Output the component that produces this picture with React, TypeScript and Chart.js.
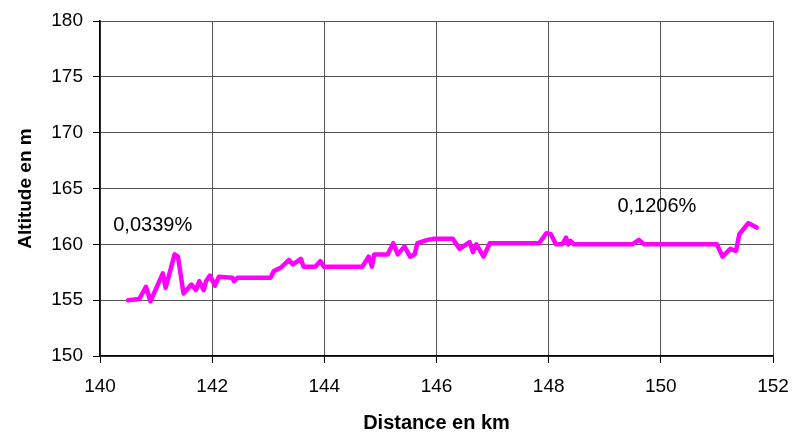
import React, { useEffect, useRef } from "react";
import { Chart, registerables } from "chart.js";

Chart.register(...registerables);

const distanceKm: number[] = [
  140.5, 140.7, 140.82, 140.9, 141.12, 141.17, 141.33, 141.39, 141.49, 141.63,
  141.71, 141.77, 141.85, 141.89, 141.96, 142.05, 142.12, 142.36, 142.39, 142.45,
  143.04, 143.1, 143.22, 143.37, 143.44, 143.58, 143.63, 143.84, 143.93, 143.99,
  144.68, 144.79, 144.85, 144.89, 145.13, 145.23, 145.31, 145.43, 145.53, 145.61,
  145.66, 145.84, 145.96, 146.29, 146.41, 146.59, 146.65, 146.71, 146.84, 146.95,
  147.83, 147.96, 148.04, 148.13, 148.24, 148.31, 148.35, 148.39, 148.45, 149.49,
  149.61, 149.7, 151.0, 151.1, 151.24, 151.34, 151.4, 151.56, 151.71,
];

const altitudeM: number[] = [
  155.0, 155.1, 156.2, 154.9, 157.4, 156.1, 159.1, 158.9, 155.6, 156.4,
  155.9, 156.7, 155.9, 156.7, 157.2, 156.3, 157.1, 157.0, 156.7, 157.0,
  157.0, 157.6, 157.9, 158.6, 158.2, 158.7, 158.0, 158.0, 158.5, 158.0,
  158.0, 158.9, 158.0, 159.1, 159.1, 160.1, 159.1, 159.8, 158.9, 159.1,
  160.1, 160.4, 160.5, 160.5, 159.6, 160.2, 159.3, 160.0, 158.9, 160.1,
  160.1, 161.0, 160.9, 160.0, 160.0, 160.6, 160.0, 160.3, 160.0, 160.0,
  160.4, 160.0, 160.0, 158.9, 159.6, 159.4, 160.9, 161.9, 161.5,
];

const annotationTexts: string[] = ["0,0339%", "0,1206%"];
const annotationX: number[] = [140.94, 149.93];
const annotationY: number[] = [161.65, 163.35];

const xTitle = "Distance en km";
const yTitle = "Altitude en m";

const FONT = '"Liberation Sans", Arial, sans-serif';

const annotationPlugin = {
  id: "slopeLabels",
  afterDatasetsDraw(chart: any) {
    const { ctx, scales } = chart;
    ctx.save();
    ctx.font = `20px ${FONT}`;
    ctx.fillStyle = "#000";
    ctx.textAlign = "center";
    ctx.textBaseline = "middle";
    annotationTexts.forEach((t, i) => {
      ctx.fillText(t, scales.x.getPixelForValue(annotationX[i]), scales.y.getPixelForValue(annotationY[i]));
    });
    ctx.restore();
  },
};

export default function App() {
  const ref = useRef<HTMLCanvasElement | null>(null);
  useEffect(() => {
    if (!ref.current) return;
    const data = distanceKm.map((x, i) => ({ x, y: altitudeM[i] }));
    const chart = new Chart(ref.current, {
      type: "line",
      data: {
        datasets: [
          {
            data,
            borderColor: "#FF00FF",
            backgroundColor: "#FF00FF",
            borderWidth: 4.5,
            pointRadius: 0,
            tension: 0,
            borderJoinStyle: "round",
            borderCapStyle: "round",
          },
        ],
      },
      options: {
        animation: false,
        responsive: false,
        maintainAspectRatio: false,
        layout: { padding: { top: 21, right: 22, left: 0, bottom: 0 } },
        plugins: { legend: { display: false }, tooltip: { enabled: false } },
        scales: {
          x: {
            type: "linear",
            min: 140,
            max: 152,
            afterFit: (s: any) => {
              s.height = 77;
              s.paddingLeft = 0;
              s.paddingRight = 0;
            },
            ticks: {
              stepSize: 2,
              padding: 12,
              maxRotation: 0,
              minRotation: 0,
              color: "#000",
              font: { family: FONT, size: 19 },
            },
            grid: { color: "#555", lineWidth: 1, tickLength: 7, tickColor: "#000" },
            border: { color: "#000", width: 1.5 },
            title: {
              display: true,
              text: xTitle,
              color: "#000",
              padding: { top: 0, bottom: 0 },
              font: { family: FONT, size: 20, weight: "bold", lineHeight: 1 },
            },
          },
          y: {
            min: 150,
            max: 180,
            afterFit: (s: any) => {
              s.width = 100;
              s.paddingTop = 0;
              s.paddingBottom = 0;
            },
            ticks: {
              stepSize: 5,
              padding: 10,
              color: "#000",
              font: { family: FONT, size: 19 },
            },
            grid: { color: "#555", lineWidth: 1, tickLength: 7, tickColor: "#000" },
            border: { color: "#000", width: 1.5 },
            title: {
              display: true,
              text: yTitle,
              color: "#000",
              padding: { top: 16, bottom: 0 },
              font: { family: FONT, size: 19, weight: "bold", lineHeight: 1 },
            },
          },
        },
      },
      plugins: [annotationPlugin],
    });
    return () => chart.destroy();
  }, []);
  return (
    <div style={{ position: "absolute", left: 0, top: 0, width: 795, height: 433, background: "#fff" }}>
      <canvas ref={ref} width={795} height={433} style={{ width: 795, height: 433, display: "block" }} />
    </div>
  );
}
